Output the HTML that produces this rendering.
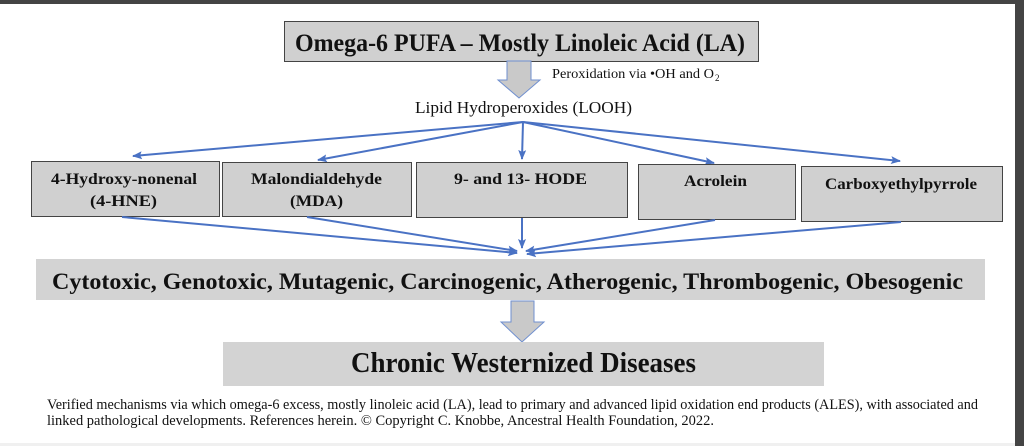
<!DOCTYPE html>
<html><head><meta charset="utf-8"><style>
html,body{margin:0;padding:0;background:#fff;}
svg{display:block;}
text{font-family:"Liberation Serif",serif;fill:#111;}
</style></head><body>
<svg width="1024" height="446" viewBox="0 0 1024 446" xmlns="http://www.w3.org/2000/svg">
<defs>
<marker id="ah" markerWidth="10" markerHeight="8" refX="9" refY="4" orient="auto" markerUnits="userSpaceOnUse">
<path d="M0,0 L10,4 L0,8 L2,4 z" fill="#4a72c4"/>
</marker>
</defs>
<rect x="0" y="0" width="1024" height="446" fill="#fff"/>
<rect x="0" y="0" width="1024" height="4" fill="#444"/>
<rect x="1015" y="0" width="9" height="446" fill="#444"/>
<rect x="0" y="443" width="1015" height="3" fill="#f0f0f0"/>

<!-- top box -->
<rect x="284.5" y="21.5" width="474" height="40" fill="#d0d0d0" stroke="#444" stroke-width="1"/>
<text x="295" y="51" font-size="25" font-weight="bold" textLength="450" lengthAdjust="spacingAndGlyphs">Omega-6 PUFA – Mostly Linoleic Acid (LA)</text>

<!-- hollow arrow 1 -->
<path d="M507,61 L531,61 L531,80 L540,80 L519,98 L498,80 L507,80 Z" fill="#c9c9c9" stroke="#6f8fcf" stroke-width="1"/>
<text x="552" y="78" font-size="13.5" textLength="162" lengthAdjust="spacingAndGlyphs">Peroxidation via •OH and O</text>
<text x="715" y="81" font-size="9">2</text>
<text x="415" y="113" font-size="16.5" textLength="217" lengthAdjust="spacingAndGlyphs">Lipid Hydroperoxides (LOOH)</text>

<!-- top fan lines -->
<g stroke="#4a72c4" stroke-width="2" fill="none" marker-end="url(#ah)">
<line x1="523" y1="122" x2="133" y2="156"/>
<line x1="523" y1="122" x2="318" y2="160"/>
<line x1="523" y1="122" x2="522" y2="159"/>
<line x1="523" y1="122" x2="714" y2="163"/>
<line x1="523" y1="122" x2="900" y2="161"/>
</g>

<!-- boxes -->
<g fill="#d0d0d0" stroke="#444" stroke-width="1">
<rect x="31.5" y="161.5" width="188" height="55"/>
<rect x="222.5" y="162.5" width="189" height="54"/>
<rect x="416.5" y="162.5" width="211" height="55"/>
<rect x="638.5" y="164.5" width="157" height="55"/>
<rect x="801.5" y="166.5" width="201" height="55"/>
</g>
<g font-size="16" font-weight="bold">
<text x="51" y="184" textLength="146" lengthAdjust="spacingAndGlyphs">4-Hydroxy-nonenal</text>
<text x="90" y="206" textLength="67" lengthAdjust="spacingAndGlyphs">(4-HNE)</text>
<text x="251" y="184" textLength="131" lengthAdjust="spacingAndGlyphs">Malondialdehyde</text>
<text x="290" y="206" textLength="53" lengthAdjust="spacingAndGlyphs">(MDA)</text>
<text x="454" y="184" textLength="133" lengthAdjust="spacingAndGlyphs">9- and 13- HODE</text>
<text x="684" y="186" textLength="63" lengthAdjust="spacingAndGlyphs">Acrolein</text>
<text x="825" y="189" textLength="152" lengthAdjust="spacingAndGlyphs">Carboxyethylpyrrole</text>
</g>

<!-- converging lines -->
<g stroke="#4a72c4" stroke-width="2" fill="none" marker-end="url(#ah)">
<line x1="122" y1="217" x2="517" y2="253"/>
<line x1="307" y1="217" x2="517" y2="251"/>
<line x1="522" y1="218" x2="522" y2="248"/>
<line x1="715" y1="220" x2="526" y2="251"/>
<line x1="901" y1="222" x2="527" y2="254"/>
</g>

<!-- effects bar -->
<rect x="36" y="259" width="949" height="41" fill="#d3d3d3"/>
<text x="52" y="289" font-size="23" font-weight="bold" textLength="911" lengthAdjust="spacingAndGlyphs">Cytotoxic, Genotoxic, Mutagenic, Carcinogenic, Atherogenic, Thrombogenic, Obesogenic</text>

<!-- hollow arrow 2 -->
<path d="M511,301 L534,301 L534,322 L544,322 L522,342 L501,322 L511,322 Z" fill="#c9c9c9" stroke="#6f8fcf" stroke-width="1"/>

<!-- chronic box -->
<rect x="223" y="342" width="601" height="44" fill="#d3d3d3"/>
<text x="351" y="372" font-size="28" font-weight="bold" textLength="345" lengthAdjust="spacingAndGlyphs">Chronic Westernized Diseases</text>

<!-- footer -->
<text x="47" y="409" font-size="14.5" textLength="931" lengthAdjust="spacingAndGlyphs">Verified mechanisms via which omega-6 excess, mostly linoleic acid (LA), lead to primary and advanced lipid oxidation end products (ALES), with associated and</text>
<text x="47" y="425" font-size="14.5" textLength="667" lengthAdjust="spacingAndGlyphs">linked pathological developments.  References herein. © Copyright C. Knobbe, Ancestral Health Foundation, 2022.</text>
</svg>
</body></html>
